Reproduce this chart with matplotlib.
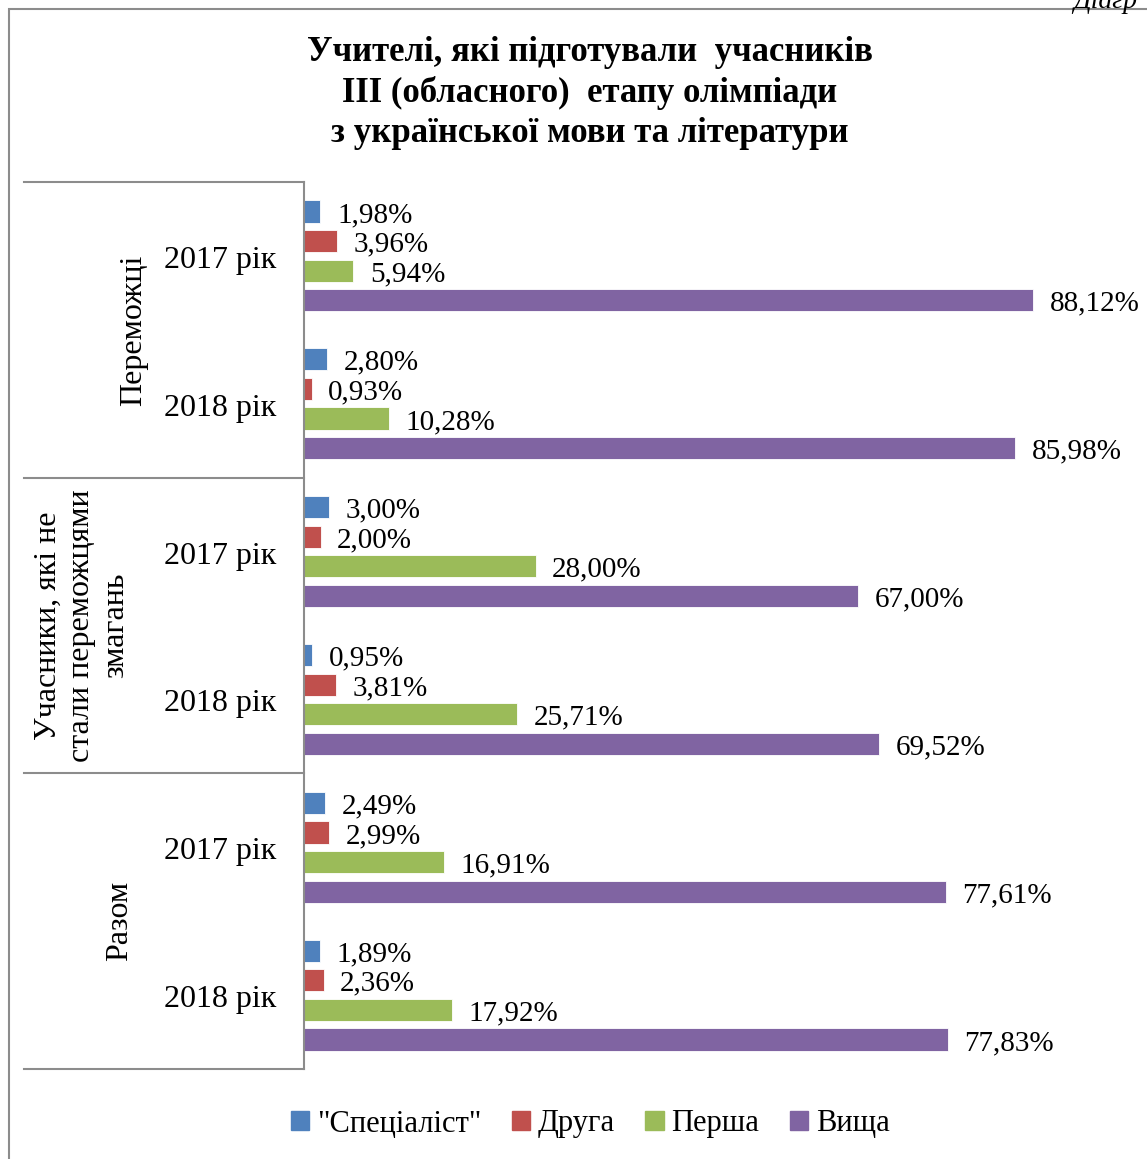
import matplotlib.pyplot as plt
from matplotlib.patches import Rectangle
from matplotlib.lines import Line2D
import matplotlib.transforms as mtransforms

# data
groups = ["Переможці", "Учасники, які не\nстали переможцями\nзмагань", "Разом"]
years = ["2017 рік", "2018 рік"]
series = ['"Спеціаліст"', "Друга", "Перша", "Вища"]
specialist = [1.98, 2.80, 3.00, 0.95, 2.49, 1.89]
druga = [3.96, 0.93, 2.00, 3.81, 2.99, 2.36]
persha = [5.94, 10.28, 28.00, 25.71, 16.91, 17.92]
vyshcha = [88.12, 85.98, 67.00, 69.52, 77.61, 77.83]
colors = ["#4F81BD", "#C0504D", "#9BBB59", "#8064A2"]

plt.rcParams["font.family"] = ["Liberation Serif", "DejaVu Serif"]

W, H = 1147, 1159
fig = plt.figure(figsize=(W / 100, H / 100), dpi=100)

# chart frame
fig.patches.append(Rectangle((9 / W, -0.05), 1.2, 1 - 9 / H + 0.05, transform=fig.transFigure,
                             fill=False, edgecolor="#8c8c8c", linewidth=1.5))
fig.text(1073 / W, 1 - 8 / H, "Діагр", ha="left", va="baseline", fontsize=20, style="italic")

fig.text(590 / W, 1 - 36 / H,
         "Учителі, які підготували  учасників\nІІІ (обласного)  етапу олімпіади\nз української мови та літератури",
         ha="center", va="top", fontsize=25, fontweight="bold", linespacing=1.27)

ax = fig.add_axes([304 / W, 1 - 1069 / H, (1131 - 304) / W, (1069 - 182) / H])
ax.set_xlim(0, 100)
ax.set_ylim(6, 0)

all_vals = [specialist, druga, persha, vyshcha]
offsets = [-0.3, -0.1, 0.1, 0.3]
for vals, off, col, name in zip(all_vals, offsets, colors, series):
    ys = [i + 0.5 + off for i in range(len(vals))]
    ax.barh(ys, vals, height=0.15, color=col, edgecolor="white", linewidth=0.6, label=name)
    for v, y in zip(vals, ys):
        ax.annotate(f"{v:.2f}%".replace(".", ","), (v, y), xytext=(12, -2.5),
                    textcoords="offset points", ha="left", va="center", fontsize=21)

for s in ["top", "right", "bottom"]:
    ax.spines[s].set_visible(False)
ax.spines["left"].set_color("#8c8c8c")
ax.spines["left"].set_linewidth(1.5)
ax.set_xticks([])
ax.set_yticks([])

trans = mtransforms.blended_transform_factory(ax.transAxes, ax.transData)
x_lab = (276 - 304) / 827
for i in range(6):
    ax.text(x_lab, i + 0.53, years[i % 2], transform=trans, ha="right", va="center", fontsize=23)

x0 = (24 - 304) / 827
for yb in [0, 2, 4, 6]:
    ax.add_line(Line2D([x0, 0], [yb, yb], transform=trans, color="#8c8c8c", linewidth=1.5, clip_on=False))

gx = [(134 - 304) / 827, (82 - 304) / 827, (120 - 304) / 827]
for k, g in enumerate(groups):
    ax.text(gx[k], 2 * k + 1, g, transform=trans, rotation=90, ha="center", va="center",
            fontsize=23, linespacing=1.2, multialignment="center")

handles = [Rectangle((0, 0), 1, 1, color=c) for c in colors]
fig.legend(handles, series, loc="center", bbox_to_anchor=(590 / W, 1 - 1124 / H), ncol=4,
           frameon=False, fontsize=22, handlelength=0.6, handleheight=0.6,
           handletextpad=0.25, columnspacing=1.0)

fig.savefig("out.png", dpi=100)
